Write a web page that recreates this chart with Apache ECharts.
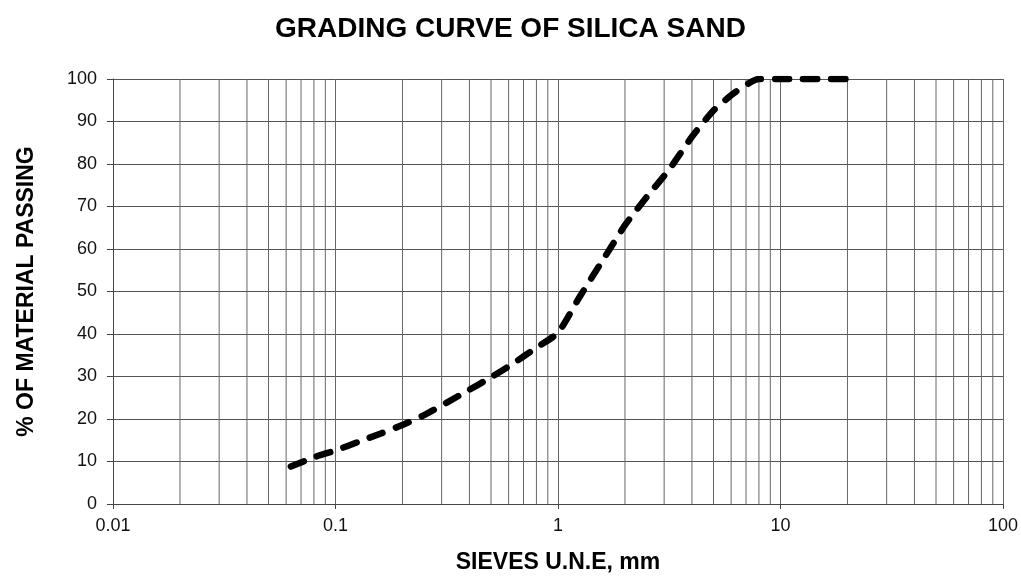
<!DOCTYPE html>
<html>
<head>
<meta charset="utf-8">
<script src="https://cdn.jsdelivr.net/npm/echarts@6/dist/echarts.min.js"></script>
<style>
html,body{margin:0;padding:0;background:#fff;}
#chart{width:1021px;height:579px;}
</style>
</head>
<body>
<div id="chart"></div>
<script>
// Sieve sizes (mm) and % passing
const sieveSizes = [0.063, 0.08, 0.1, 0.125, 0.16, 0.2, 0.25, 0.315, 0.4, 0.5, 0.63, 0.8, 1, 1.25, 1.6, 2, 2.5, 3.15, 4, 5, 6.3, 8, 10, 12.5, 16, 20, 22.4];
const passing    = [8.8, 11, 12.6, 14.5, 16.6, 18.6, 20.9, 23.8, 26.9, 29.8, 33.1, 36.8, 40.3, 48.7, 57.6, 65.6, 72.2, 78.6, 86.4, 92.6, 97, 100, 100, 100, 100, 100, 100];
// Axis tick labels
const xTickLabels = ['0.01', '0.1', '1', '10', '100'];
const yTicks = [0, 10, 20, 30, 40, 50, 60, 70, 80, 90, 100];
// Intermediate log-grid lines (2..9 of each decade)
const minorGridX = [0.02, 0.03, 0.04, 0.05, 0.06, 0.07, 0.08, 0.09,
                    0.2, 0.3, 0.4, 0.5, 0.6, 0.7, 0.8, 0.9,
                    2, 3, 4, 5, 6, 7, 8, 9,
                    20, 30, 40, 50, 60, 70, 80, 90];

const FONT = '"Liberation Sans", Arial, sans-serif';
const chart = echarts.init(document.getElementById('chart'), null, {renderer: 'canvas'});

const curveData = sieveSizes.map((s, i) => [s, passing[i]]);

chart.setOption({
  animation: false,
  backgroundColor: '#ffffff',
  title: {
    text: 'GRADING CURVE OF SILICA SAND',
    left: 'center',
    top: 10,
    textStyle: {fontFamily: FONT, fontWeight: 'bold', fontSize: 28, color: '#000'}
  },
  grid: {left: 113, right: 17.5, top: 79, bottom: 73.5, containLabel: false},
  xAxis: {
    type: 'log',
    logBase: 10,
    min: 0.01,
    max: 100,
    name: 'SIEVES U.N.E, mm',
    nameLocation: 'middle',
    nameGap: 47,
    nameTextStyle: {fontFamily: FONT, fontWeight: 'bold', fontSize: 23, color: '#000'},
    axisLine: {show: true, lineStyle: {color: '#444', width: 1}},
    axisTick: {show: true, length: 5, lineStyle: {color: '#444'}},
    splitLine: {show: true, lineStyle: {color: '#666', width: 1}},
    axisLabel: {
      margin: 13,
      fontFamily: FONT,
      fontSize: 18,
      color: '#111',
      formatter: function (v) {
        const idx = Math.round(Math.log10(v)) + 2;
        return xTickLabels[idx] !== undefined ? xTickLabels[idx] : '';
      }
    }
  },
  yAxis: {
    type: 'value',
    min: yTicks[0],
    max: yTicks[yTicks.length - 1],
    interval: 10,
    name: '% OF MATERIAL PASSING',
    nameLocation: 'middle',
    nameRotate: 90,
    nameGap: 75,
    nameTextStyle: {fontFamily: FONT, fontWeight: 'bold', fontSize: 23, color: '#000'},
    axisLine: {show: true, lineStyle: {color: '#444', width: 1}},
    axisTick: {show: true, length: 6, lineStyle: {color: '#444'}},
    splitLine: {show: true, lineStyle: {color: '#555', width: 1}},
    axisLabel: {margin: 16, fontFamily: FONT, fontSize: 18, color: '#111'}
  },
  series: [
    {
      type: 'custom',
      z: 1,
      silent: true,
      data: minorGridX.map(v => [v, 0]),
      encode: {x: 0, y: 1},
      renderItem: function (params, api) {
        const xv = api.value(0);
        const p0 = api.coord([xv, yTicks[0]]);
        const p1 = api.coord([xv, yTicks[yTicks.length - 1]]);
        return {
          type: 'line',
          shape: {x1: p0[0], y1: p0[1], x2: p1[0], y2: p1[1]},
          style: {stroke: '#666', lineWidth: 1}
        };
      }
    },
    {
      type: 'line',
      z: 5,
      data: curveData,
      smooth: 0.2,
      symbol: 'none',
      lineStyle: {color: '#000', width: 6.5, type: [14, 14], cap: 'round', join: 'round'}
    }
  ]
});
</script>
</body>
</html>
